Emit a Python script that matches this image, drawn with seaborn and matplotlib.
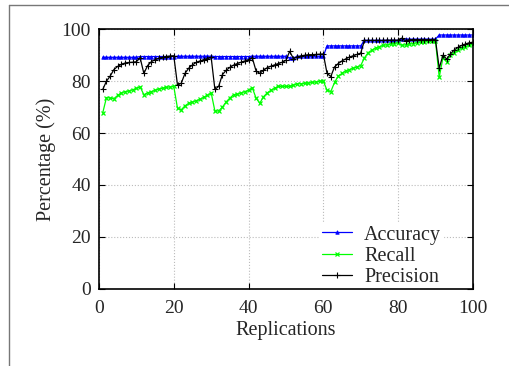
import numpy as np
import pandas as pd
import matplotlib
matplotlib.use("Agg")
import matplotlib.pyplot as plt
import seaborn as sns
from matplotlib.lines import Line2D

# --- data ---
replications = list(range(1, 101))

accuracy = ([89.2] * 10 + [89.5] * 10 + [89.6] * 10 + [89.5] * 10 + [89.6] * 10
            + [89.0, 88.9] + [89.6] * 8
            + [93.6] * 10
            + [95.7] * 10 + [96.2] * 10
            + [97.8] * 10)

recall = [67.8, 73.7, 73.5, 73.3, 74.5, 75.5, 76.0, 76.2, 76.7, 77.2,
          77.8, 74.8, 75.5, 76.0, 76.5, 77.0, 77.3, 77.6, 77.8, 78.0,
          69.5, 69.0, 70.5, 71.5, 72.0, 72.5, 73.0, 73.8, 74.5, 75.5,
          68.5, 68.5, 70.0, 72.0, 73.5, 74.8, 75.0, 75.5, 76.0, 76.5,
          77.5, 73.5, 71.5, 74.0, 75.5, 76.5, 77.3, 78.0, 78.0, 78.0,
          78.0, 78.5, 79.0, 79.0, 79.2, 79.3, 79.5, 79.7, 80.0, 80.0,
          76.5, 76.0, 79.5, 82.0, 83.0, 84.0, 84.5, 85.0, 85.5, 86.0,
          89.0, 91.0, 92.0, 92.8, 93.3, 93.8, 94.0, 94.3, 94.5, 94.8,
          93.8, 94.0, 94.2, 94.5, 94.8, 95.0, 95.2, 95.3, 95.3, 95.5,
          81.5, 89.0, 87.5, 90.0, 91.0, 92.0, 92.8, 93.3, 93.8, 94.2]

precision = [76.8, 80.0, 82.0, 84.5, 85.7, 86.5, 87.0, 87.2, 87.3, 87.5,
             89.0, 83.0, 86.0, 87.5, 88.3, 88.8, 89.2, 89.5, 89.7, 89.8,
             78.5, 79.2, 83.0, 85.0, 86.3, 87.2, 87.8, 88.3, 88.7, 89.2,
             76.8, 78.0, 82.5, 84.2, 85.3, 86.2, 86.8, 87.3, 87.8, 88.3,
             89.0, 84.0, 83.0, 84.2, 85.2, 85.8, 86.3, 86.8, 87.3, 88.0,
             91.5, 88.7, 89.3, 89.7, 90.0, 90.2, 90.2, 90.3, 90.4, 90.5,
             83.0, 81.8, 85.5, 86.8, 87.8, 88.6, 89.3, 89.8, 90.3, 90.8,
             95.7, 95.7, 95.7, 95.7, 95.7, 95.7, 95.8, 95.8, 95.8, 95.8,
             96.6, 95.5, 96.0, 96.0, 96.0, 96.0, 96.0, 96.0, 96.0, 96.0,
             85.0, 90.0, 88.5, 90.5, 92.0, 93.0, 93.8, 94.3, 94.8, 95.0]

x_ticks = [0, 20, 40, 60, 80, 100]
y_ticks = [0, 20, 40, 60, 80, 100]

# --- plot ---
sns.set_theme(style="whitegrid")
plt.rcParams['font.family'] = ['Liberation Serif', 'DejaVu Serif']

fig = plt.figure(figsize=(5.09, 3.66), dpi=100)
ax = fig.add_axes([0.1945, 0.211, 0.7345, 0.709])

series = [
    (accuracy, '#0000ff', '^', 2.5, 0.6, 'Accuracy'),
    (recall, '#00ff00', 'x', 3.5, 0.9, 'Recall'),
    (precision, 'black', '+', 5.0, 0.8, 'Precision'),
]
for vals, col, mk, ms, mew, lab in series:
    sns.lineplot(x=replications, y=vals, ax=ax, color=col, marker=mk,
                 markersize=ms, markeredgewidth=mew, markeredgecolor=col,
                 markerfacecolor=col, linewidth=0.9, label=lab)

ax.set_xlim(0, 100)
ax.set_ylim(0, 100)
ax.set_xticks(x_ticks)
ax.set_yticks(y_ticks)
ax.set_xlabel('Replications', fontsize=14.5, labelpad=3)
ax.set_ylabel('Percentage (%)', fontsize=14.5, labelpad=4)
ax.tick_params(axis='both', labelsize=14, direction='in', length=4, width=0.8,
               top=True, right=True, bottom=True, left=True, color='black')
ax.tick_params(axis='x', pad=8)
ax.tick_params(axis='y', pad=6)
ax.grid(True, color='#bbbbbb', linestyle=':', linewidth=0.8)
ax.set_facecolor('white')
for s in ax.spines.values():
    s.set_color('black')
    s.set_linewidth(1.2)
    s.set_zorder(6)

leg = ax.legend(loc='lower right', bbox_to_anchor=(0.92, 0.0), fontsize=14.5,
                frameon=True, framealpha=1, edgecolor='white', facecolor='white',
                handlelength=1.5, handletextpad=0.6, labelspacing=0.1,
                borderpad=0.1, borderaxespad=0.0, fancybox=False)

# gray page frame seen at top and left edges
fig.add_artist(Line2D([9 / 509, 1.0], [1 - 5 / 366, 1 - 5 / 366],
                      transform=fig.transFigure, color='#777777', linewidth=1.0))
fig.add_artist(Line2D([9 / 509, 9 / 509], [0.0, 1 - 5 / 366],
                      transform=fig.transFigure, color='#777777', linewidth=1.0))

fig.savefig('out.png', dpi=100)
